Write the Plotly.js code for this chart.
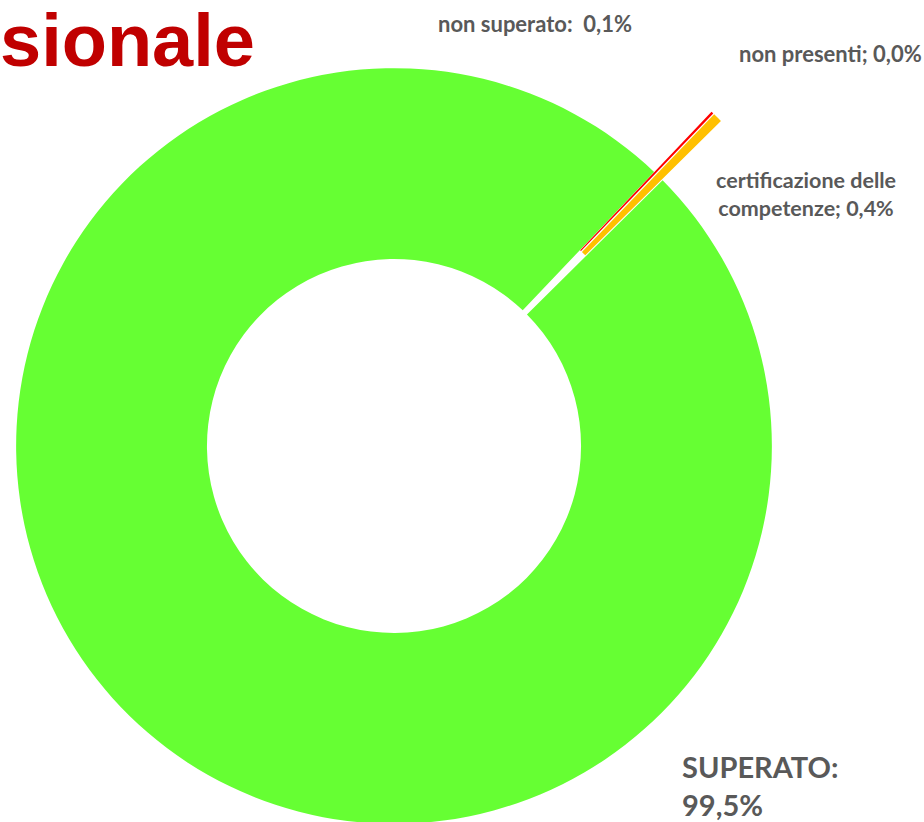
<!DOCTYPE html>
<html>
<head>
<meta charset="utf-8">
<script src="https://cdn.plot.ly/plotly-3.0.1.min.js"></script>
<style>
  html, body { margin: 0; padding: 0; width: 924px; height: 822px; overflow: hidden; background: #fff; }
  #chart { position: absolute; left: -67px; top: -15px; width: 991px; height: 922px; }
</style>
</head>
<body>
<div id="chart"></div>
<script>
// Data
const categories = ["SUPERATO", "non superato", "non presenti", "certificazione delle competenze"];
const values = [99.5, 0.1, 0.0, 0.4];
const colors = ["#66FF33", "#FF0000", "#FFC000", "#FFC000"];
const pulls = [0, 0.22, 0.22, 0.22];
const labelTexts = [
  "SUPERATO:<br>99,5%",
  "non superato:  0,1%",
  "non presenti; 0,0%",
  "certificazione delle<br>competenze; 0,4%"
];
const titleText = "sionale";

// plot area geometry (div offset -67,-15; plot area 922x922)
const OX = -67, OY = -15, S = 922;
function px(X) { return (X - OX) / S; }
function py(Y) { return 1 - (Y - OY) / S; }

const textFont = { family: "Lato, 'Open Sans', sans-serif", color: "#595959" };

const trace = {
  type: "pie",
  labels: categories,
  values: values,
  sort: false,
  direction: "clockwise",
  rotation: 45.3,
  hole: 0.495,
  pull: pulls,
  marker: { colors: colors, line: { color: "#ffffff", width: 0 } },
  textinfo: "none",
  hoverinfo: "label+percent",
  showlegend: false,
  domain: { x: [0, 1], y: [0, 1] }
};

const annotations = [
  { text: "<b>" + titleText + "</b>", x: px(-2), y: py(40), xanchor: "left", yanchor: "middle",
    font: { family: "'Liberation Sans', Arial, sans-serif", size: 74, color: "#C00000" } },
  { text: "<b>" + labelTexts[1] + "</b>", x: px(535), y: py(23), xanchor: "center", yanchor: "middle",
    font: Object.assign({ size: 22 }, textFont) },
  { text: "<b>" + labelTexts[2] + "</b>", x: px(830), y: py(53), xanchor: "center", yanchor: "middle",
    font: Object.assign({ size: 22 }, textFont) },
  { text: "<b>" + labelTexts[3] + "</b>", x: px(806), y: py(194), xanchor: "center", yanchor: "middle", align: "center",
    font: Object.assign({ size: 21.5 }, textFont) },
  { text: "<b>" + labelTexts[0] + "</b>", x: px(680), y: py(785), xanchor: "left", yanchor: "middle", align: "left",
    font: Object.assign({ size: 29 }, textFont) }
].map(a => Object.assign({ xref: "paper", yref: "paper", showarrow: false }, a));

const layout = {
  width: 991,
  height: 922,
  margin: { l: 0, r: 69, t: 0, b: 0, pad: 0 },
  paper_bgcolor: "#ffffff",
  plot_bgcolor: "#ffffff",
  showlegend: false,
  annotations: annotations
};

Plotly.newPlot("chart", [trace], layout, { displayModeBar: false, staticPlot: true });
</script>
</body>
</html>
